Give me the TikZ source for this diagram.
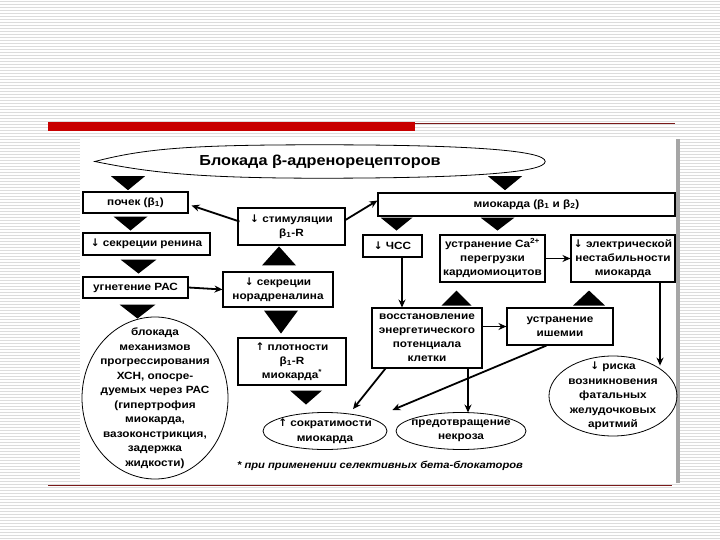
\documentclass[tikz,border=0pt]{standalone}
\usepackage{fontspec}
\setmainfont{Liberation Sans}[FakeStretch=1.12]
\newfontfamily\arrfont{DejaVu Sans}
\usepackage{tikz}
\usetikzlibrary{arrows.meta,shapes.geometric,calc}
\definecolor{slidered}{HTML}{C80000}
\definecolor{ruleline}{HTML}{7A1A1A}
\definecolor{stripe}{HTML}{DCDCDC}
\newcommand{\dnar}{{\arrfont\bfseries ↓}}
\newcommand{\upar}{{\arrfont\bfseries ↑}}
\tikzset{
  box/.style={draw, line width=1.1pt, rectangle, align=center, inner sep=1pt, font=\fontsize{10.5}{14}\selectfont\bfseries},
  oval/.style={draw, line width=0.8pt, ellipse, inner sep=0pt},
  txt/.style={align=center, inner sep=0pt, font=\fontsize{10.5}{14.5}\selectfont\bfseries},
  arr/.style={-{Stealth[length=8pt,width=7pt]}, line width=1.8pt},
  tri/.style={fill=black},
  stripes/.style={line width=1.2pt, stripe}
}

\begin{document}
\begin{tikzpicture}[x=1pt,y=-1pt]
\useasboundingbox (0,0) rectangle (720,540);
% slide background
\fill[white] (0,0) rectangle (720,540);
\foreach \y in {1.5,4.5,...,540} \draw[stripes] (0,\y) -- (720,\y);
\fill[white] (80,139) rectangle (676,483);
\fill[black!35] (676,139) rectangle (680,483);
\fill[slidered] (48,122) rectangle (415,131);
\draw[ruleline, line width=1pt] (415,124) -- (675,124);
\draw[ruleline, line width=1.2pt] (48,485.5) -- (672,485.5);

% top
\node[minimum width=450, minimum height=33, inner sep=0pt, font=\fontsize{14.5}{16}\selectfont\bfseries] (block) at (320,161.5) {Блокада β-адренорецепторов};
\draw[line width=0.8pt] (block.west) .. controls ($(block.west)+(50,-13)$) and ($(block.north)+(-130,0)$) .. (block.north)
  .. controls ($(block.north)+(150,0)$) and ($(block.east)+(0,-11)$) .. (block.east)
  .. controls ($(block.east)+(0,11)$) and ($(block.south)+(150,0)$) .. (block.south)
  .. controls ($(block.south)+(-130,0)$) and ($(block.west)+(50,10)$) .. (block.west) -- cycle;
\node[box, minimum width=105, minimum height=21] (pochek) at (135.5,202.5) {почек (β\textsubscript{1})};
\node[box, minimum width=297, minimum height=23] (miok) at (526.5,204.5) {миокарда (β\textsubscript{1} и β\textsubscript{2})};
\node[box, minimum width=107, minimum height=37] (stim) at (291.5,226.5) {\dnar{} стимуляции\\β\textsubscript{1}-R};

% left column
\node[box, minimum width=127, minimum height=22] (renin) at (146.5,244) {\dnar{} секреции ренина};
\node[box, minimum width=105, minimum height=21] (ugnet) at (135.5,287.5) {угнетение РАС};
\node[box, minimum width=110, minimum height=35] (noradr) at (278,289.5) {\dnar{} секреции\\норадреналина};
\node[box, minimum width=108, minimum height=47] (plotn) at (292,361.5) {\upar{} плотности\\β\textsubscript{1}-R\\миокарда\textsuperscript{*}};
\node[oval, minimum width=146, minimum height=162] (hsn) at (155,398) {};
\node[txt] (hsntext) at (hsn) {блокада\\механизмов\\прогрессирования\\ХСН, опосре-\\дуемых через РАС\\(гипертрофия\\миокарда,\\вазоконстрикция,\\задержка\\жидкости)};

% right part
\node[box, minimum width=59, minimum height=22] (hss) at (392.5,246) {\dnar{} ЧСС};
\node[box, minimum width=105, minimum height=47] (ca) at (492.5,258.5) {устранение Ca\textsuperscript{2+}\\перегрузки\\кардиомиоцитов};
\node[box, minimum width=104, minimum height=47] (elec) at (623,258.5) {\dnar{} электрической\\нестабильности\\миокарда};
\node[box, minimum width=110, minimum height=60] (vosst) at (427,338) {восстановление\\энергетического\\потенциала\\клетки};
\node[box, minimum width=106, minimum height=37] (ishem) at (560,326.5) {устранение\\ишемии};
\node[oval, minimum width=128, minimum height=80] (risk) at (613,396) {};
\node[txt] (risktext) at (risk) {\dnar{} риска\\возникновения\\фатальных\\желудочковых\\аритмий};

% bottom
\node[oval, minimum width=124, minimum height=37] (sokr) at (325,431) {};
\node[txt] (sokrtext) at (sokr) {\upar{} сократимости\\миокарда};
\node[oval, minimum width=130, minimum height=37] (nekr) at (461,431) {};
\node[txt] (nekrtext) at (nekr) {предотвращение\\некроза};
\node[font=\fontsize{10}{12}\selectfont\bfseries\itshape] (note) at (380,466) {* при применении селективных бета-блокаторов};

% black triangles
\fill[tri] ($(block.south)+(-209,-2)$) -- ++(34,0) -- ++(-17,14) -- cycle;
\fill[tri] ($(block.south)+(168,-2)$) -- ++(34,0) -- ++(-17,14) -- cycle;
\fill[tri] ($(pochek.south)+(-22,3)$) -- ++(34,0) -- ++(-17,14) -- cycle;
\fill[tri] ($(renin.south)+(-26,4)$) -- ++(36,0) -- ++(-18,14) -- cycle;
\fill[tri] ($(ugnet.south)+(-16,6)$) -- ++(36,0) -- ++(-18,14) -- cycle;
\fill[tri] ($(noradr.north)+(-16,-6)$) -- ++(34,0) -- ++(-17,-19) -- cycle;
\fill[tri] ($(noradr.south)+(-14,3)$) -- ++(34,0) -- ++(-17,23) -- cycle;
\fill[tri] ($(plotn.south)+(-2,5)$) -- ++(32,0) -- ++(-16,14) -- cycle;
\fill[tri] ($(miok.south)+(-146,1)$) -- ++(32,0) -- ++(-16,13) -- cycle;
\fill[tri] ($(miok.south)+(-46,1)$) -- ++(34,0) -- ++(-17,13) -- cycle;
\fill[tri] ($(ca.south)+(-51,23)$) -- ++(30,0) -- ++(-15,-15) -- cycle;
\fill[tri] ($(elec.south)+(-50,23)$) -- ++(32,0) -- ++(-16,-15) -- cycle;

% arrows
\draw[arr] ($(stim.west)+(2,-5)$) -- ($(pochek.east)+(3,3)$);
\draw[arr] ($(stim.east)+(-1,-6)$) -- ($(miok.west)+(0,-4)$);
\draw[arr] (ugnet.east) -- (noradr.west);
\draw[arr] ($(hss.south)+(9.5,0)$) -- ++(0,50);
\draw[arr] (ca.east) -- (elec.west);
\draw[arr] (vosst.east |- ishem.west) -- (ishem.west);
\draw[arr] ($(elec.south)+(37,0)$) -- ($(risk.north)+(47,10)$);
\draw[arr] ($(vosst.south west)+(14,0)$) -- ($(sokr.north)+(28,-3)$);
\draw[arr] ($(ishem.south west)+(40,0)$) -- ($(sokr.east)+(5,-21)$);
\draw[arr] ($(vosst.south)+(41,0)$) -- ++(0,44);
\end{tikzpicture}
\end{document}
